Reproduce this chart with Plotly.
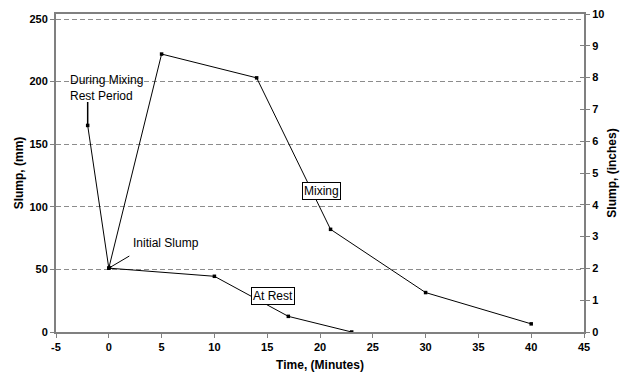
import plotly.graph_objects as go

# Slump measurements (mm) versus time (minutes)
mix_time = [-2, 0, 5, 14, 21, 30, 40]
mix_slump = [165, 51, 222, 203, 82, 31.5, 6.5]

rest_time = [0, 10, 17, 23]
rest_slump = [51, 44.5, 12.5, 0]

x_ticks = [-5, 0, 5, 10, 15, 20, 25, 30, 35, 40, 45]
x_tick_labels = ["-5", "0", "5", "10", "15", "20", "25", "30", "35", "40", "45"]
mm_ticks = [0, 50, 100, 150, 200, 250]
inch_ticks = list(range(0, 11))

FONT = "Liberation Sans, Arial, sans-serif"
AXIS_GREY = "#808080"

fig = go.Figure()

line_style = dict(color="black", width=1)
marker_style = dict(symbol="square", size=3.5, color="black")

fig.add_trace(go.Scatter(x=mix_time, y=mix_slump, mode="lines+markers",
                         line=line_style, marker=marker_style,
                         showlegend=False, hoverinfo="x+y"))
fig.add_trace(go.Scatter(x=rest_time, y=rest_slump, mode="lines+markers",
                         line=line_style, marker=marker_style,
                         showlegend=False, hoverinfo="x+y"))
# empty traces that activate the inch axis and its inner tick marks
fig.add_trace(go.Scatter(x=[None], y=[None], yaxis="y2", showlegend=False))
fig.add_trace(go.Scatter(x=[None], y=[None], yaxis="y3", showlegend=False))

tick_font = dict(family=FONT, size=11, color="black", weight="bold")
title_font = dict(family=FONT, size=12, color="black", weight="bold")

fig.update_layout(
    width=628, height=374,
    margin=dict(l=56, r=44, t=14, b=42),
    paper_bgcolor="white", plot_bgcolor="white",
    font=dict(family=FONT, size=11, color="black"),
    xaxis=dict(
        range=[-5, 45], tickvals=x_ticks, ticktext=x_tick_labels,
        ticks="outside", ticklen=4, tickcolor=AXIS_GREY, showline=True,
        linecolor=AXIS_GREY, linewidth=2, mirror=True, showgrid=False,
        zeroline=False, tickfont=tick_font, automargin=False,
        title=dict(text="Time, (Minutes)", font=title_font, standoff=8),
    ),
    yaxis=dict(
        range=[0, 254], tickvals=mm_ticks, ticks="outside", ticklen=4,
        tickcolor=AXIS_GREY, showline=True, linecolor=AXIS_GREY, linewidth=2,
        showgrid=True, gridcolor="#8c8c8c", griddash="5px,3px", gridwidth=1,
        zeroline=False, tickfont=tick_font, automargin=False,
        title=dict(text="Slump, (mm)", font=title_font, standoff=3),
    ),
    yaxis2=dict(
        range=[0, 10], tickvals=inch_ticks, overlaying="y", side="right",
        ticks="outside", ticklen=4, tickcolor=AXIS_GREY, showline=True,
        linecolor=AXIS_GREY, linewidth=2, showgrid=False, zeroline=False,
        tickfont=tick_font, automargin=False,
        title=dict(text="Slump, (inches)", font=title_font, standoff=4),
    ),
    yaxis3=dict(
        range=[0, 10], tickvals=inch_ticks, overlaying="y", side="right",
        ticks="inside", ticklen=4, tickcolor=AXIS_GREY, showline=False,
        showgrid=False, zeroline=False, showticklabels=False,
        automargin=False,
    ),
)

label_font = dict(family=FONT, size=12, color="black")

# Leader from the pre-mixing point up to its label
fig.add_annotation(x=mix_time[0], y=mix_slump[0], text="", showarrow=True,
                   ax=0, ay=-25, arrowhead=0, arrowwidth=1.5, arrowcolor="black")
fig.add_annotation(x=-3.9, y=200, text="During Mixing<br>Rest Period",
                   showarrow=False, xanchor="left", yanchor="top",
                   align="left", font=label_font, yshift=11)

# Initial slump leader and label
fig.add_annotation(x=rest_time[0], y=rest_slump[0], text="", showarrow=True,
                   ax=22, ay=-13, arrowhead=1, arrowsize=0.8, arrowwidth=1,
                   arrowcolor="black")
fig.add_annotation(x=2.1, y=71, text="Initial Slump", showarrow=False,
                   xanchor="left", font=label_font)

# Boxed segment labels
fig.add_annotation(x=20.16, y=112.4, text="Mixing", showarrow=False,
                   bgcolor="white", bordercolor="black", borderwidth=1,
                   borderpad=1, font=label_font)
fig.add_annotation(x=15.55, y=28.8, text="At Rest", showarrow=False,
                   bgcolor="white", bordercolor="black", borderwidth=1,
                   borderpad=1, font=label_font)

fig.write_html("out.html")
